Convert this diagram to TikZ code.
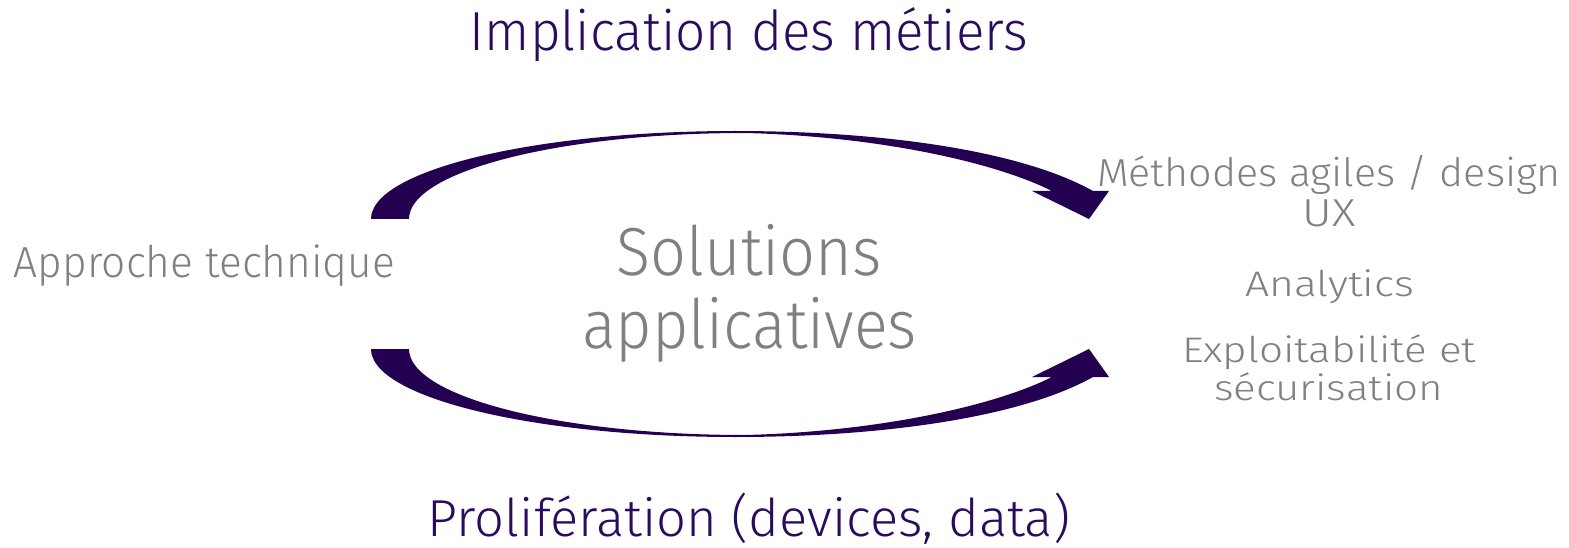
\documentclass[tikz,border=0pt]{standalone}
\usepackage{fontspec}
\setmainfont{Fira Sans}[UprightFont={* Light}]
\usepackage{graphicx}
\definecolor{deeppurple}{HTML}{230150}
\definecolor{titlepurple}{HTML}{2A0B5E}
\definecolor{midgray}{HTML}{808080}
\tikzset{
  lbl/.style={anchor=base, inner sep=0pt, outer sep=0pt},
  graytxt/.style={lbl, text=midgray},
  purpletxt/.style={lbl, text=titlepurple},
  bigarrow/.style={fill=deeppurple, draw=none}
}
% width (px), font size (px), text: scaled horizontally only
\newcommand{\fitw}[3]{\resizebox{#1pt}{\height}{\fontsize{#2pt}{#2pt}\selectfont #3}}
\begin{document}
\begin{tikzpicture}[x=1pt,y=-1pt]
\useasboundingbox (0,0) rectangle (1569,548);
% top curved arrow
\fill[bigarrow] (371,219) .. controls (371,170.4) and (534,131) .. (735,131)
  .. controls (880,131) and (1020,150) .. (1093,191) -- (1109,191) -- (1089,219)
  -- (1032,191) -- (1052,191) .. controls (990,160) and (870,136) .. (745,133)
  .. controls (559.4,133) and (409,171.5) .. (409,219) -- cycle;
% bottom curved arrow
\fill[bigarrow] (371,349) .. controls (371,397.6) and (534,437) .. (735,437)
  .. controls (880,437) and (1020,418) .. (1093,377) -- (1109,377) -- (1089,349)
  -- (1032,377) -- (1052,377) .. controls (990,408) and (870,432) .. (745,435)
  .. controls (559.4,435) and (409,396.5) .. (409,349) -- cycle;
% texts
\node[purpletxt] (top) at (749,51) {\fitw{558}{55}{Implication des métiers}};
\node[purpletxt] (bottom) at (749,536) {\fitw{642}{52}{Prolifération (devices, data)}};
\node[graytxt] (sol0) at (749.5,276) {\fitw{265}{68}{Solutions}};
\node[graytxt] (sol1) at (749.5,348) {\fitw{335}{68}{applicatives}};
\node[graytxt] (left) at (204.5,277) {\fitw{381}{43.5}{Approche technique}};
\node[graytxt] (r1) at (1329,187) {\fitw{464}{39}{Méthodes agiles / design}};
\node[graytxt] (r2) at (1329,227) {\fitw{53}{39}{UX}};
\node[graytxt] (r3) at (1329.5,296) {\fitw{169}{35.5}{Analytics}};
\node[graytxt] (r4) at (1329,362) {\fitw{294}{35.5}{Exploitabilité et}};
\node[graytxt] (r5) at (1328.5,400) {\fitw{229}{35.5}{sécurisation}};
\end{tikzpicture}
\end{document}
